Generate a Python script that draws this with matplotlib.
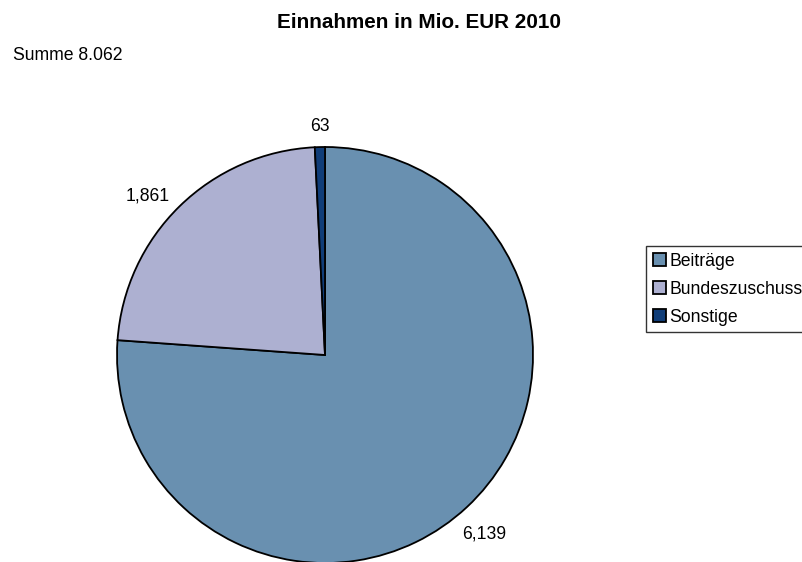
import matplotlib
matplotlib.use("Agg")
import matplotlib.pyplot as plt
import numpy as np

plt.rcParams['font.family'] = ['Liberation Sans', 'DejaVu Sans']

categories = ["Beiträge", "Bundeszuschuss", "Sonstige"]
values = [6139, 1861, 63]
labels = ["6,139", "1,861", "63"]
colors = ["#6990B0", "#ADB0D1", "#103D78"]
title = "Einnahmen in Mio. EUR 2010"
subtitle = "Summe 8.062"

W, H = 803, 562
FS = 12.7
fig = plt.figure(figsize=(W / 100, H / 100), dpi=100)
fig.patch.set_facecolor("white")

cx, cy, r = 325, 355, 208
ax = fig.add_axes([(cx - r) / W, (H - cy - r) / H, 2 * r / W, 2 * r / H])
wedges, _ = ax.pie(values, colors=colors, startangle=90, counterclock=False,
                   wedgeprops=dict(edgecolor="black", linewidth=1.3))
ax.set_xlim(-1, 1)
ax.set_ylim(-1, 1)
ax.set_aspect("equal")
ax.axis("off")

placement = [(1.12, "center", "top"), (1.07, "right", "center"), (1.06, "center", "bottom")]
for w, lab, (d, ha, va) in zip(wedges, labels, placement):
    ang = np.deg2rad((w.theta1 + w.theta2) / 2)
    ax.text(d * np.cos(ang), d * np.sin(ang), lab, ha=ha, va=va,
            fontsize=FS, clip_on=False)

fig.text(419 / W, 1 - 22 / H, title, ha="center", va="center",
         fontsize=14.9, fontweight="bold")
fig.text(13 / W, 1 - 55 / H, subtitle, ha="left", va="center", fontsize=FS)

leg = fig.legend(wedges, categories, loc="upper left",
                 bbox_to_anchor=(646 / W, 1 - 246 / H), fontsize=FS,
                 frameon=True, fancybox=False, handlelength=0.75,
                 handleheight=0.75, handletextpad=0.2, labelspacing=0.62,
                 borderpad=0.38, borderaxespad=0)
leg.get_frame().set_edgecolor("black")
leg.get_frame().set_linewidth(1.0)
for h in leg.legend_handles:
    h.set_linewidth(1.3)

fig.savefig("out.png", dpi=100)
